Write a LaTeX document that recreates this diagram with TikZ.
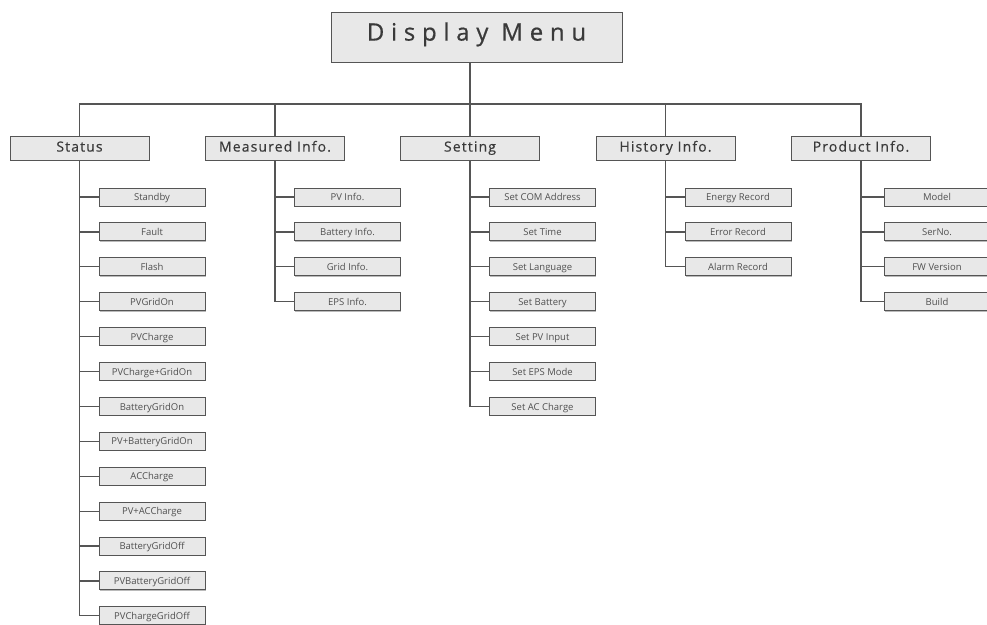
\documentclass[tikz,border=0pt]{standalone}
\usepackage{fontspec}
\setmainfont{Open Sans}
\newfontfamily\titlefont[LetterSpace=28,FakeBold=0.6]{Open Sans}
\newfontfamily\headfont[LetterSpace=8,FakeBold=0.4]{Open Sans}
\usetikzlibrary{shadows}
\definecolor{boxfill}{HTML}{E8E8E8}
\definecolor{boxline}{HTML}{555555}
\definecolor{txt}{HTML}{3A3A3A}
\definecolor{itxt}{HTML}{505050}
\begin{document}
\begin{tikzpicture}[x=1pt,y=-1pt,
  base/.style={draw=boxline, fill=boxfill, line width=1pt, inner sep=0pt, text=txt,
    text height=0.72em, text depth=0pt,
    drop shadow={shadow xshift=0.8pt, shadow yshift=-0.8pt, fill=black!45, opacity=0.6}},
  titlebox/.style={base, minimum width=291pt, minimum height=50pt, font=\titlefont\fontsize{24}{28}\selectfont},
  headbox/.style={base, minimum width=139pt, minimum height=24pt, font=\headfont\fontsize{14}{16}\selectfont},
  itembox/.style={base, minimum width=106pt, minimum height=18pt, text=itxt, font=\fontsize{9.5}{11}\selectfont},
  link/.style={draw=boxline, line width=1.2pt}]
\fill[white] (0,0) rectangle (987,624);
\useasboundingbox (0,0) rectangle (987,624);
\coordinate (bus) at (0,104);
% title
\node[titlebox] (dm) at (476.5,37) {Display Menu};
% level 1
\node[headbox] (st) at (79.5,148) {Status};
\node[headbox] (ms) at (275,148) {Measured Info.};
\node[headbox] (se) at (470,148) {Setting};
\node[headbox] (hi) at (665.5,148) {History Info.};
\node[headbox] (pr) at (861,148) {Product Info.};
% children
\foreach \t [count=\i] in {Standby,Fault,Flash,PVGridOn,PVCharge,PVCharge+GridOn,BatteryGridOn,PV+BatteryGridOn,ACCharge,PV+ACCharge,BatteryGridOff,PVBatteryGridOff,PVChargeGridOff}
  \node[itembox] (s\i) at (152,197+34.9*\i-34.9) {\t};
\foreach \t [count=\i] in {PV Info.,Battery Info.,Grid Info.,EPS Info.}
  \node[itembox] (m\i) at (347.5,197+34.9*\i-34.9) {\t};
\foreach \t [count=\i] in {Set COM Address,Set Time,Set Language,Set Battery,Set PV Input,Set EPS Mode,Set AC Charge}
  \node[itembox] (e\i) at (542.5,197+34.9*\i-34.9) {\t};
\foreach \t [count=\i] in {Energy Record,Error Record,Alarm Record}
  \node[itembox] (h\i) at (738,197+34.9*\i-34.9) {\t};
\foreach \t [count=\i] in {Model,SerNo.,FW Version,Build}
  \node[itembox] (p\i) at (937,197+34.9*\i-34.9) {\t};
% connectors
\draw[link] (se.north) -- (se.north |- dm.south);
\draw[link] (st.north) -- (st.north |- bus) -- (pr.north |- bus) -- (pr.north);
\draw[link] (ms.north) -- (ms.north |- bus);
\draw[link] (hi.north) -- (hi.north |- bus);
\draw[link] (st.south) |- (s13.west);
\draw[link] (ms.south) |- (m4.west);
\draw[link] (se.south) |- (e7.west);
\draw[link] (hi.south) |- (h3.west);
\draw[link] (pr.south) |- (p4.west);
\foreach \i in {1,...,12} \draw[link] (s\i.west) -- (s\i.west -| st.south);
\foreach \i in {1,...,3} \draw[link] (m\i.west) -- (m\i.west -| ms.south);
\foreach \i in {1,...,6} \draw[link] (e\i.west) -- (e\i.west -| se.south);
\foreach \i in {1,...,2} \draw[link] (h\i.west) -- (h\i.west -| hi.south);
\foreach \i in {1,...,3} \draw[link] (p\i.west) -- (p\i.west -| pr.south);
\end{tikzpicture}
\end{document}
